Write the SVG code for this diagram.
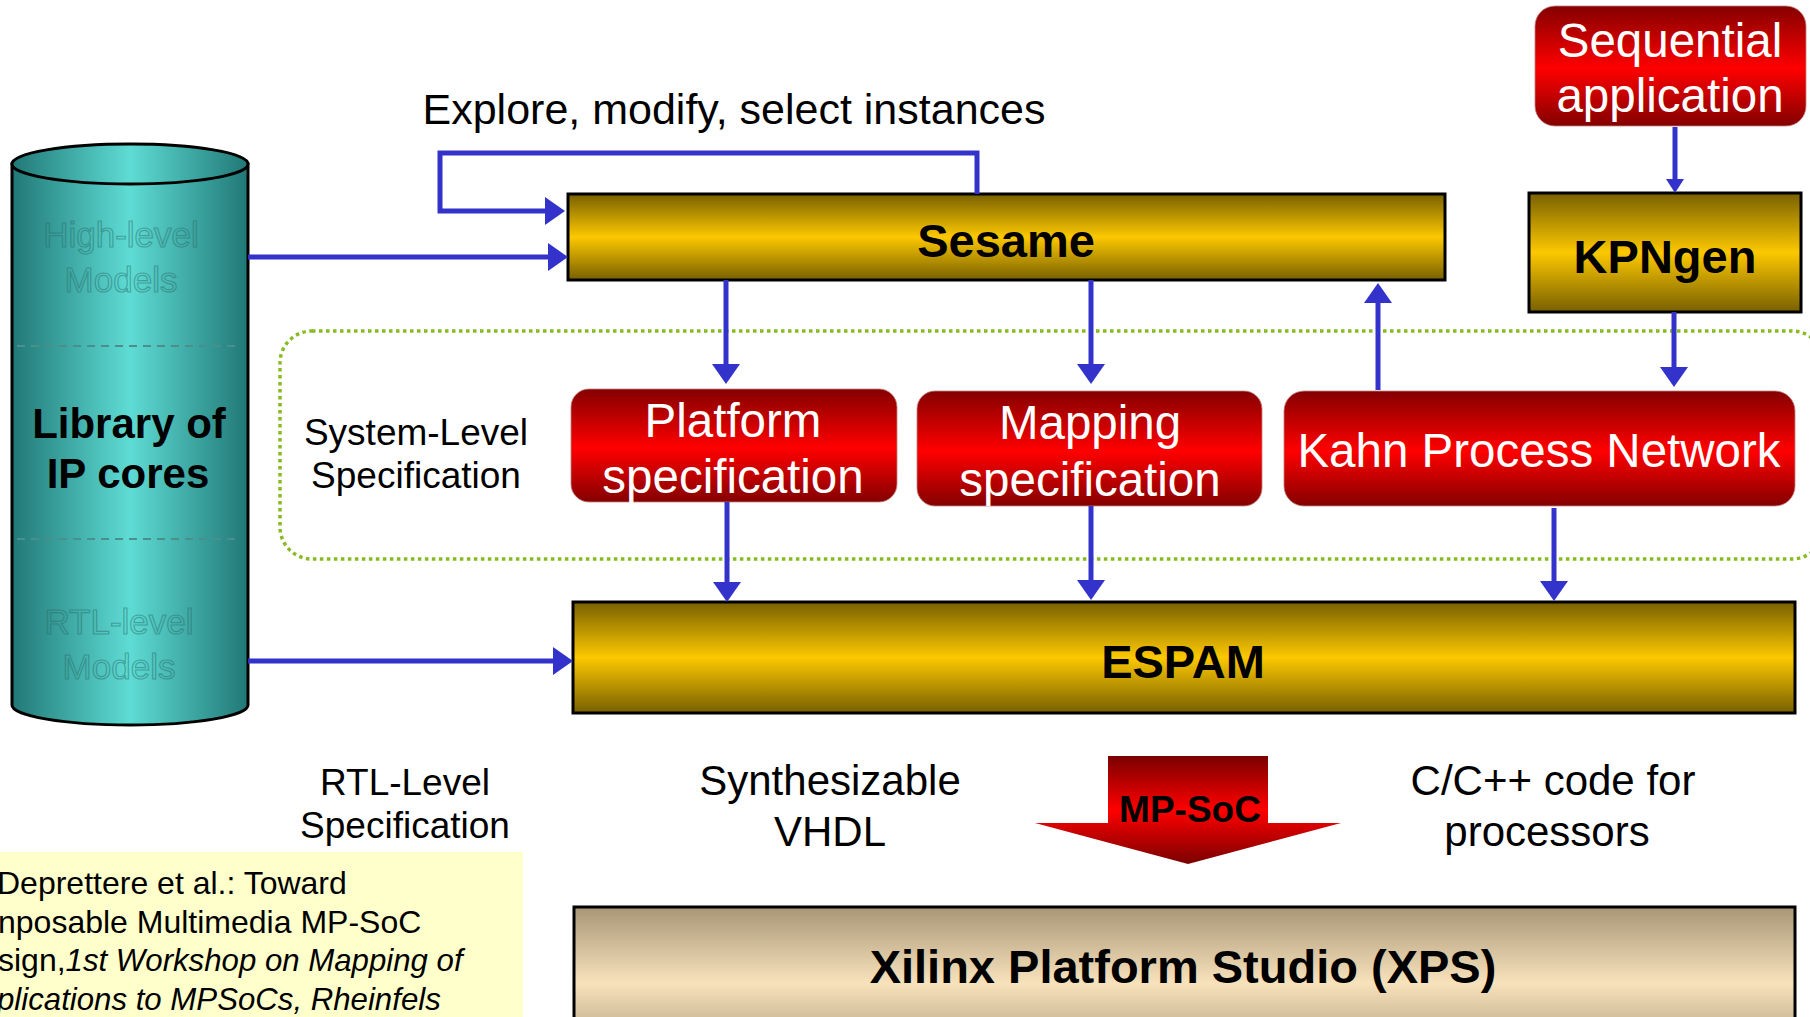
<svg xmlns="http://www.w3.org/2000/svg" width="1810" height="1017" viewBox="0 0 1810 1017">
<style>
text{font-family:"Liberation Sans",Arial,sans-serif;}
.lbl{font-size:42px;fill:#000;text-anchor:middle;}
.sm{font-size:37px;fill:#000;text-anchor:middle;}
.bold{font-weight:bold;font-size:47px;fill:#000;text-anchor:middle;}
.b42{font-weight:bold;font-size:42px;fill:#000;text-anchor:middle;}
.b37{font-weight:bold;font-size:37px;fill:#000;text-anchor:middle;}
.wt{font-size:47.5px;fill:#fff;text-anchor:middle;}
.gold{fill:url(#gGold);stroke:#000;stroke-width:3;}
.red{fill:url(#gRed);stroke:#c08080;stroke-width:0.8;}
.conn{fill:none;stroke:#3333cc;stroke-width:5;}
.faint{font-size:35px;text-anchor:middle;fill:none;stroke:#2a6e6b;stroke-opacity:0.5;stroke-width:1.2;}
.note{font-size:32px;fill:#000;}
.it{font-style:italic;font-size:31.2px;}
</style>
<defs>
<linearGradient id="gGold" x1="0" y1="0" x2="0" y2="1">
<stop offset="0" stop-color="#786000"/>
<stop offset="0.5" stop-color="#fcc800"/>
<stop offset="1" stop-color="#786000"/>
</linearGradient>
<linearGradient id="gRed" x1="0" y1="0" x2="0" y2="1">
<stop offset="0" stop-color="#840000"/>
<stop offset="0.52" stop-color="#ff0000"/>
<stop offset="1" stop-color="#840000"/>
</linearGradient>
<linearGradient id="gTan" x1="0" y1="907" x2="0" y2="1059" gradientUnits="userSpaceOnUse">
<stop offset="0" stop-color="#a89676"/>
<stop offset="0.5" stop-color="#f8e2bc"/>
<stop offset="1" stop-color="#a89676"/>
</linearGradient>
<linearGradient id="gTeal" x1="12" y1="0" x2="248" y2="0" gradientUnits="userSpaceOnUse">
<stop offset="0" stop-color="#217876"/>
<stop offset="0.5" stop-color="#5edcd4"/>
<stop offset="1" stop-color="#217876"/>
</linearGradient>
<linearGradient id="gMp" x1="0" y1="756" x2="0" y2="864" gradientUnits="userSpaceOnUse">
<stop offset="0" stop-color="#7a0000"/>
<stop offset="0.5" stop-color="#ff0000"/>
<stop offset="1" stop-color="#7a0000"/>
</linearGradient>
<marker id="ah" viewBox="0 0 20 28" refX="6" refY="14" markerWidth="20" markerHeight="28" markerUnits="userSpaceOnUse" orient="auto">
<path d="M0,0 L20,14 L0,28 Z" fill="#3333cc"/>
</marker>
<marker id="ahs" viewBox="0 0 14 18" refX="4" refY="9" markerWidth="14" markerHeight="18" markerUnits="userSpaceOnUse" orient="auto">
<path d="M0,0 L14,9 L0,18 Z" fill="#3333cc"/>
</marker>
</defs>
<rect x="0" y="0" width="1810" height="1017" fill="#fff"/>

<g id="note">
<rect x="0" y="852" width="523" height="170" fill="#ffffcc"/>
<text class="note" x="-3" y="894">Deprettere et al.: Toward</text>
<text class="note" x="-2" y="933">nposable Multimedia MP-SoC</text>
<text class="note" x="-2" y="971">sign,<tspan class="it">1st Workshop on Mapping of</tspan></text>
<text class="note it" x="-3" y="1010">plications to MPSoCs, Rheinfels</text>
</g>

<g id="system-level-box">
<rect x="280" y="331" width="1544" height="228" rx="32" fill="none" stroke="#88bb22" stroke-width="3.5" stroke-dasharray="3.5 3.5"/>
</g>

<g id="library">
<path d="M12,164 L12,705 A118,20 0 0 0 248,705 L248,164 Z" fill="url(#gTeal)" stroke="#000" stroke-width="3"/>
<ellipse cx="130" cy="164" rx="118" ry="20" fill="url(#gTeal)" stroke="#000" stroke-width="3"/>
<line x1="17" y1="346" x2="237" y2="346" stroke="#4a8f8c" stroke-width="2" stroke-dasharray="8 6"/>
<line x1="17" y1="539" x2="237" y2="539" stroke="#4a8f8c" stroke-width="2" stroke-dasharray="8 6"/>
<text class="faint" x="121" y="247">High-level</text>
<text class="faint" x="121" y="292">Models</text>
<text class="faint" x="119" y="634">RTL-level</text>
<text class="faint" x="119" y="679">Models</text>
<text class="b42" x="129" y="438">Library of</text>
<text class="b42" x="128" y="488">IP cores</text>
</g>

<g id="explore-label">
<text class="lbl" x="734" y="124" style="font-size:43px">Explore, modify, select instances</text>
</g>

<g id="sesame">
<rect class="gold" x="568" y="194" width="877" height="86"/>
<text class="bold" x="1006" y="257">Sesame</text>
</g>

<g id="sequential">
<rect class="red" x="1535" y="6" width="271" height="120" rx="20"/>
<text class="wt" x="1670" y="57">Sequential</text>
<text class="wt" x="1670" y="112">application</text>
</g>

<g id="kpngen">
<rect class="gold" x="1529" y="193" width="272" height="119"/>
<text class="bold" x="1665" y="273">KPNgen</text>
</g>

<g id="system-level-label">
<text class="sm" x="416" y="445">System-Level</text>
<text class="sm" x="416" y="488">Specification</text>
</g>

<g id="platform">
<rect class="red" x="571" y="389" width="326" height="113" rx="18"/>
<text class="wt" x="733" y="437">Platform</text>
<text class="wt" x="733" y="493">specification</text>
</g>

<g id="mapping">
<rect class="red" x="917" y="391" width="345" height="115" rx="18"/>
<text class="wt" x="1090" y="439">Mapping</text>
<text class="wt" x="1090" y="496">specification</text>
</g>

<g id="kpn">
<rect class="red" x="1284" y="391" width="511" height="115" rx="20"/>
<text class="wt" x="1539" y="467">Kahn Process Network</text>
</g>

<g id="espam">
<rect class="gold" x="573" y="602" width="1222" height="111"/>
<text class="bold" x="1183" y="678">ESPAM</text>
</g>

<g id="output-labels">
<text class="sm" x="405" y="795">RTL-Level</text>
<text class="sm" x="405" y="838">Specification</text>
<text class="lbl" x="830" y="795">Synthesizable</text>
<text class="lbl" x="830" y="846">VHDL</text>
<text class="lbl" x="1553" y="795">C/C++ code for</text>
<text class="lbl" x="1547" y="846">processors</text>
</g>

<g id="mpsoc">
<path d="M1108,756 H1268 V823 H1341 L1188,864 L1035,823 H1108 Z" fill="url(#gMp)"/>
<text class="b37" x="1190" y="822">MP-SoC</text>
</g>

<g id="xps">
<rect x="574" y="907" width="1221" height="152" fill="url(#gTan)" stroke="#000" stroke-width="3"/>
<text class="bold" x="1183" y="983">Xilinx Platform Studio (XPS)</text>
</g>

<g id="connectors">
<path class="conn" d="M248,257 H554" marker-end="url(#ah)"/>
<path class="conn" d="M977,194 V153 H440 V211 H551" marker-end="url(#ah)"/>
<path class="conn" d="M1675,127 V183" marker-end="url(#ahs)"/>
<path class="conn" d="M726,280 V370" marker-end="url(#ah)"/>
<path class="conn" d="M1091,280 V370" marker-end="url(#ah)"/>
<path class="conn" d="M1378,390 V297" marker-end="url(#ah)"/>
<path class="conn" d="M1674,312 V373" marker-end="url(#ah)"/>
<path class="conn" d="M727,502 V588" marker-end="url(#ah)"/>
<path class="conn" d="M1091,506 V586" marker-end="url(#ah)"/>
<path class="conn" d="M1554,508 V587" marker-end="url(#ah)"/>
<path class="conn" d="M248,661 H559" marker-end="url(#ah)"/>
</g>
</svg>
